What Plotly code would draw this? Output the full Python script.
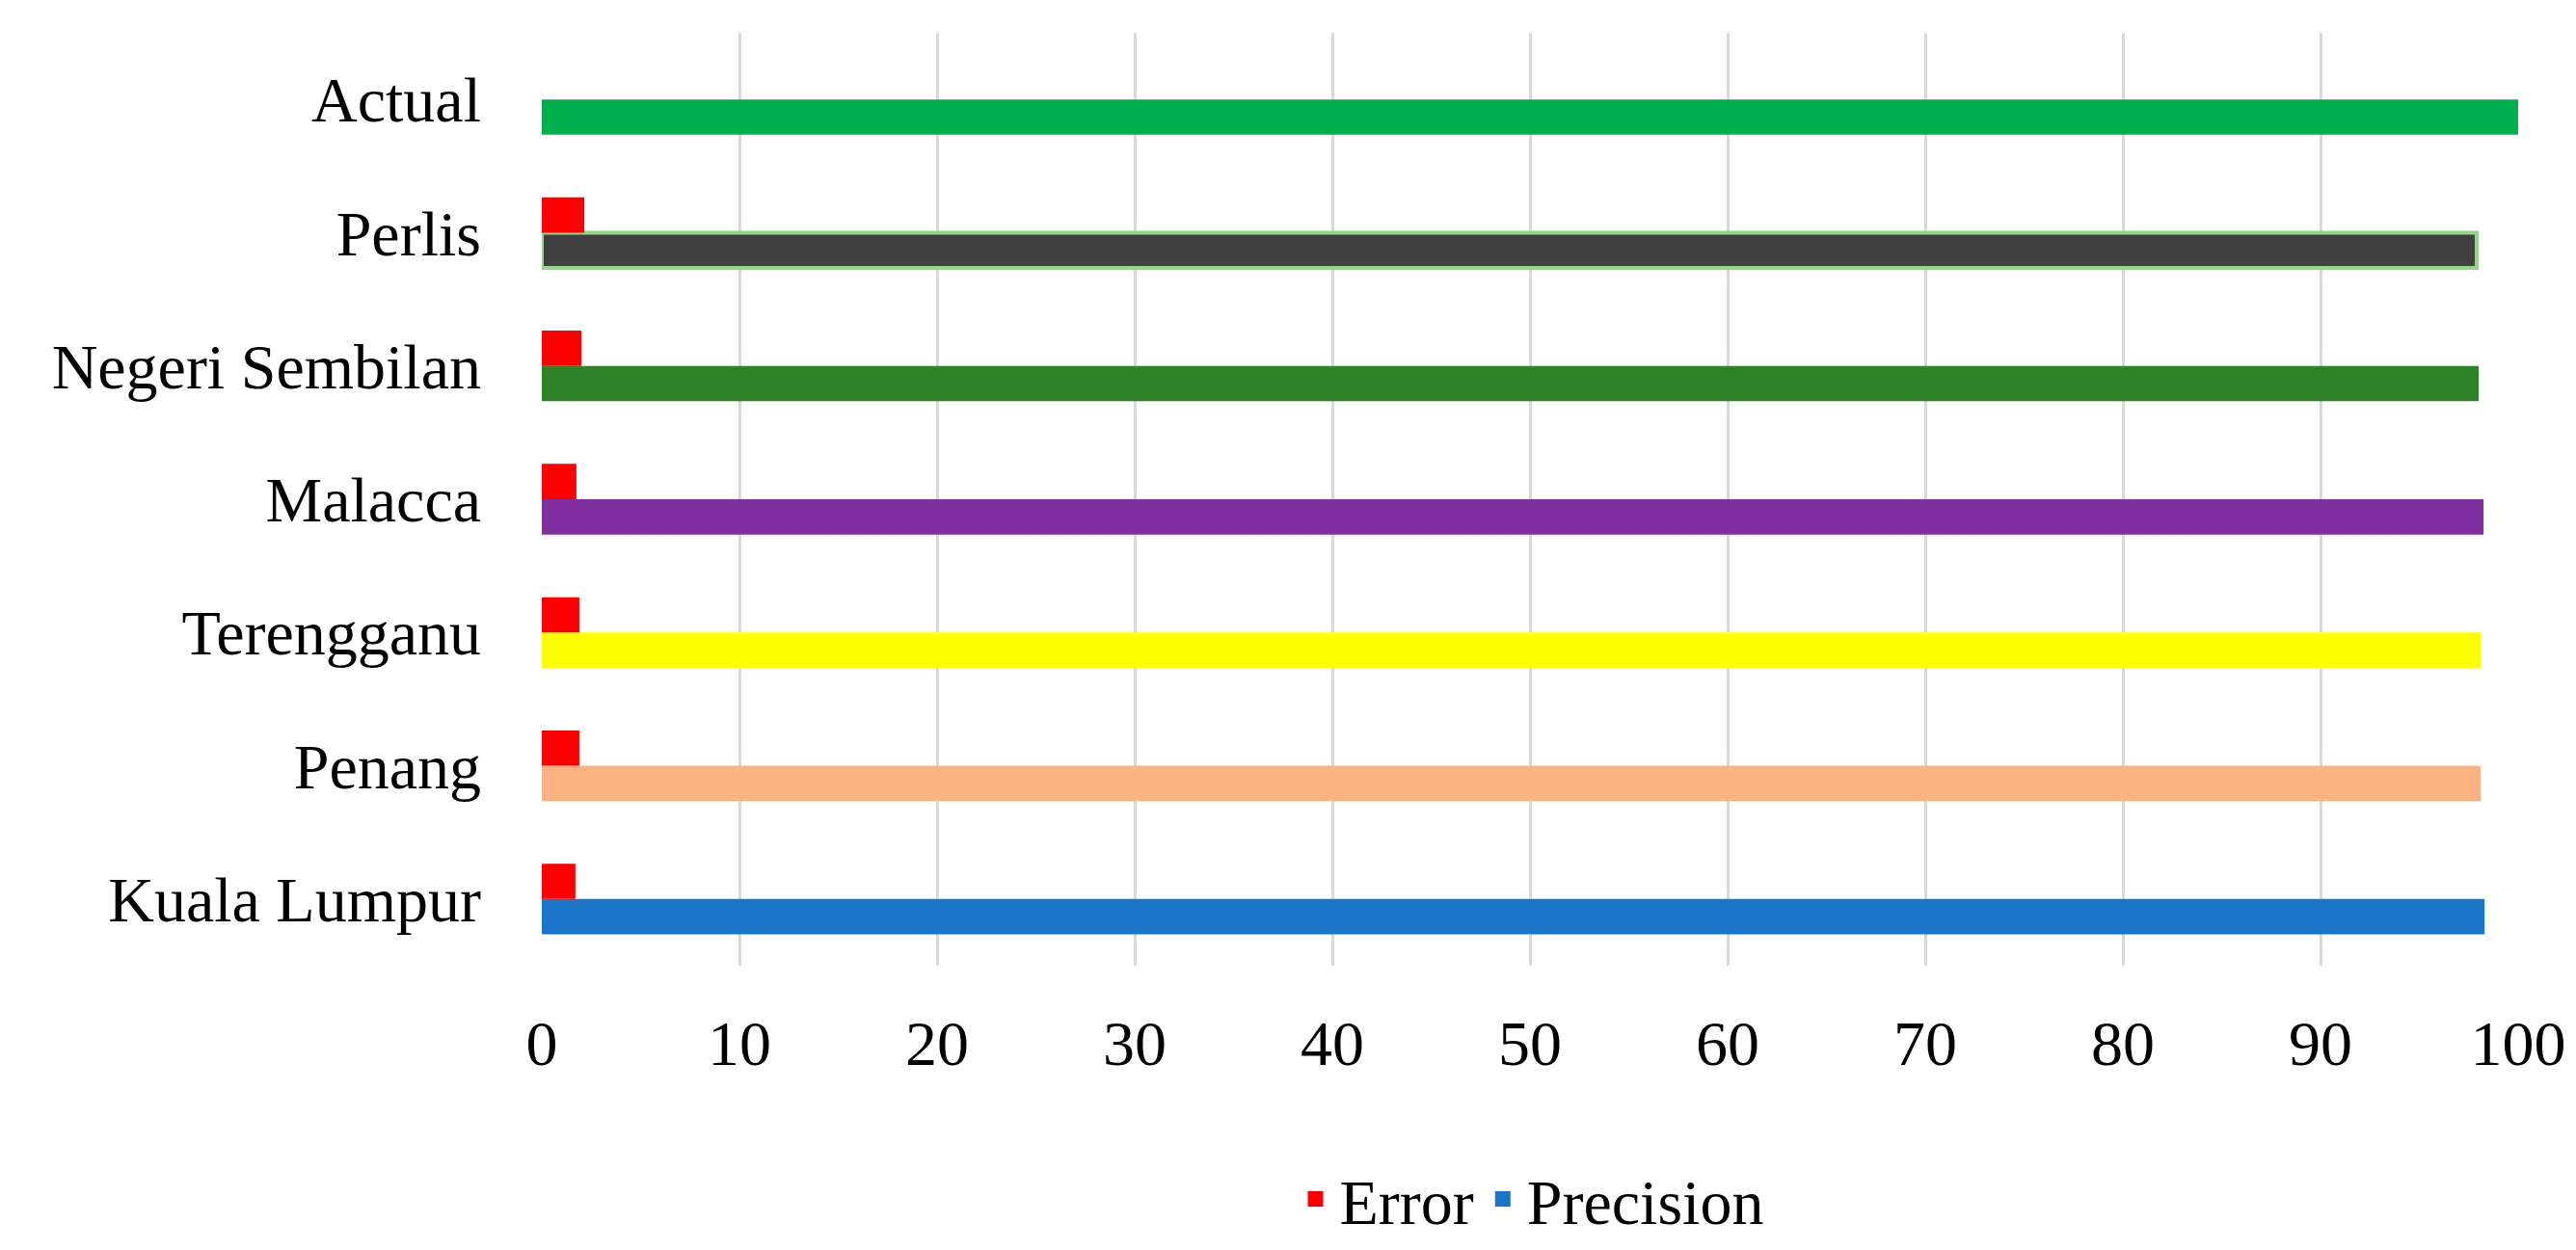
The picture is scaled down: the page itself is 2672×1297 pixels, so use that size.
import plotly.graph_objects as go

# ---- data ----
CATEGORIES = ["Kuala Lumpur", "Penang", "Terengganu", "Malacca",
              "Negeri Sembilan", "Perlis", "Actual"]
ERROR = [1.7, 1.9, 1.9, 1.75, 2.0, 2.15, None]
PRECISION = [98.3, 98.1, 98.1, 98.25, 98.0, 97.9, 100]
PRECISION_COLORS = ["#1a75c9", "#fbb383", "#ffff00", "#7f2fa0",
                    "#2e8228", "#404040", "#00b04f"]
OUTLINE_COLORS = ["rgba(0,0,0,0)"] * 5 + ["#93d68a", "rgba(0,0,0,0)"]
OUTLINE_WIDTHS = [0, 0, 0, 0, 0, 4, 0]

FONT = "Liberation Serif"
FS = 66

fig = go.Figure()

# precision first so it sits below the error bar in each group
fig.add_trace(go.Bar(
    y=CATEGORIES, x=PRECISION, orientation="h", name="Precision",
    marker=dict(color=PRECISION_COLORS,
                line=dict(color=OUTLINE_COLORS, width=OUTLINE_WIDTHS)),
    showlegend=False,
))
fig.add_trace(go.Bar(
    y=CATEGORIES, x=ERROR, orientation="h", name="Error",
    marker=dict(color="#ff0000", line=dict(width=0)),
    showlegend=False,
))

# legend-only entries with bigger square swatches
for name, col in [("Error", "#ff0000"), ("Precision", "#1a75c9")]:
    fig.add_trace(go.Scatter(
        x=[None], y=[None], mode="markers", name=name,
        marker=dict(symbol="square", size=34, color=col),
    ))

fig.update_layout(
    width=2672, height=1297,
    barmode="group", bargap=0.47, bargroupgap=0,
    paper_bgcolor="white", plot_bgcolor="white",
    margin=dict(l=554, r=68, t=26, b=292),
    font=dict(family=FONT, size=FS, color="black"),
    xaxis=dict(range=[0, 100], dtick=10, showgrid=True, gridcolor="#d9d9d9",
               gridwidth=3, zeroline=False, showline=False, ticks="",
               tickfont=dict(size=FS), ticklabelstandoff=36),
    yaxis=dict(showgrid=False, zeroline=False, showline=False, ticks="",
               categoryorder="array", categoryarray=CATEGORIES,
               tickfont=dict(size=FS), ticklabelstandoff=62),
    legend=dict(orientation="h", x=0.5, xanchor="center", y=-0.25,
                yanchor="middle", font=dict(size=FS), itemwidth=40),
)

fig.write_html("out.html")
